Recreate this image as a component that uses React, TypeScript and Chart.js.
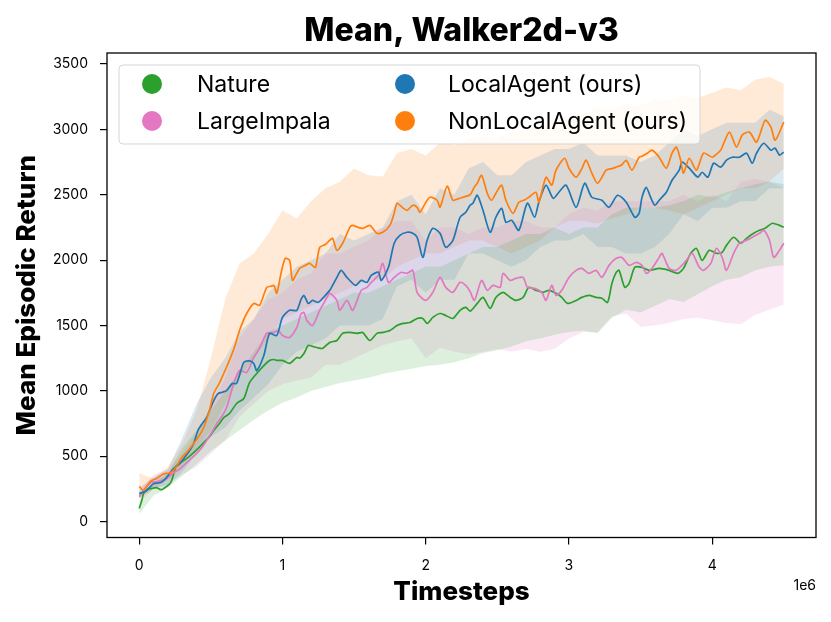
import { useEffect, useRef } from "react";
import { Chart, registerables } from "chart.js";

Chart.register(...registerables);

const TITLE = "Mean, Walker2d-v3";
const X_LABEL = "Timesteps";
const Y_LABEL = "Mean Episodic Return";
const X_OFFSET_LABEL = "1e6";

const X_TICKS = [0, 1, 2, 3, 4];
const Y_TICKS = [0, 500, 1000, 1500, 2000, 2500, 3000, 3500];

// legend order (column-major, as in the original)
const SERIES_NAMES = ["Nature", "LargeImpala", "LocalAgent (ours)", "NonLocalAgent (ours)"];
const SERIES_COLORS = ["#2ca02c", "#e377c2", "#1f77b4", "#ff7f0e"];

// x in millions of timesteps, mean episodic return
const natureMean: [number, number][] = [
  [0, 100], [0.02, 170], [0.03, 214], [0.06, 250], [0.08, 253], [0.12, 260], [0.15, 245], [0.17, 253],
  [0.22, 299], [0.26, 429], [0.31, 467], [0.34, 490], [0.38, 528], [0.42, 570], [0.45, 605], [0.49, 650],
  [0.52, 697], [0.56, 750], [0.59, 796], [0.63, 827], [0.68, 904], [0.73, 942], [0.77, 1064], [0.82, 1133],
  [0.87, 1194], [0.91, 1233], [0.94, 1240], [0.96, 1233], [1.0, 1233], [1.05, 1210], [1.1, 1256], [1.12, 1250],
  [1.15, 1286], [1.18, 1348], [1.21, 1340], [1.24, 1332], [1.28, 1325], [1.33, 1371], [1.38, 1386], [1.42, 1440],
  [1.47, 1447], [1.52, 1440], [1.56, 1447], [1.61, 1386], [1.66, 1440], [1.7, 1447], [1.75, 1462], [1.8, 1500],
  [1.84, 1516], [1.89, 1523], [1.94, 1554], [1.98, 1554], [2.01, 1516], [2.05, 1562], [2.1, 1592], [2.14, 1577],
  [2.19, 1554], [2.24, 1616], [2.28, 1639], [2.31, 1610], [2.36, 1669], [2.4, 1715], [2.45, 1631], [2.49, 1715],
  [2.54, 1754], [2.59, 1715], [2.63, 1692], [2.68, 1715], [2.72, 1792], [2.77, 1769], [2.82, 1754], [2.86, 1769],
  [2.91, 1746], [2.95, 1715], [2.99, 1669], [3.05, 1692], [3.09, 1715], [3.14, 1730], [3.19, 1715], [3.23, 1708],
  [3.27, 1677], [3.3, 1822], [3.33, 1907], [3.35, 1922], [3.39, 1792], [3.42, 1822], [3.46, 1945], [3.51, 1945],
  [3.56, 1922], [3.63, 1937], [3.7, 1922], [3.76, 1899], [3.8, 1937], [3.85, 2052], [3.89, 2090], [3.93, 1998],
  [3.98, 2075], [4.03, 2052], [4.07, 2060], [4.1, 2113], [4.15, 2175], [4.2, 2129], [4.24, 2167], [4.29, 2205],
  [4.33, 2228], [4.37, 2243], [4.42, 2282], [4.47, 2266], [4.5, 2251],
];

const impalaMean: [number, number][] = [
  [0, 190], [0.03, 240], [0.08, 299], [0.12, 305], [0.15, 314], [0.19, 329], [0.24, 375], [0.28, 400],
  [0.31, 429], [0.36, 480], [0.4, 521], [0.44, 570], [0.47, 620], [0.51, 690], [0.54, 750], [0.58, 810],
  [0.61, 873], [0.66, 1057], [0.7, 1156], [0.75, 1141], [0.8, 1256], [0.84, 1325], [0.89, 1440], [0.94, 1447],
  [0.97, 1462], [1.0, 1424], [1.05, 1409], [1.1, 1485], [1.13, 1590], [1.15, 1600], [1.17, 1539], [1.21, 1500],
  [1.26, 1616], [1.3, 1692], [1.33, 1746], [1.38, 1692], [1.4, 1616], [1.45, 1692], [1.49, 1616], [1.55, 1769],
  [1.59, 1792], [1.62, 1830], [1.67, 1884], [1.7, 1975], [1.74, 1830], [1.78, 1868], [1.83, 1907], [1.87, 1899],
  [1.91, 1922], [1.94, 1754], [2.0, 1692], [2.05, 1754], [2.1, 1868], [2.14, 1792], [2.19, 1754], [2.24, 1830],
  [2.28, 1807], [2.31, 1760], [2.34, 1692], [2.39, 1845], [2.43, 1769], [2.47, 1807], [2.52, 1792], [2.54, 1899],
  [2.59, 1845], [2.63, 1861], [2.68, 1868], [2.71, 1792], [2.76, 1784], [2.81, 1754], [2.84, 1692], [2.88, 1807],
  [2.91, 1730], [2.95, 1769], [3.0, 1868], [3.05, 1922], [3.09, 1937], [3.14, 1899], [3.19, 1922], [3.23, 1868],
  [3.28, 1960], [3.33, 2014], [3.37, 2021], [3.42, 1960], [3.47, 1983], [3.51, 1960], [3.54, 1899], [3.58, 1937],
  [3.63, 2021], [3.65, 2052], [3.7, 1937], [3.75, 1922], [3.82, 1998], [3.86, 2052], [3.91, 1945], [3.94, 1922],
  [3.99, 1975], [4.03, 2090], [4.07, 2021], [4.1, 1922], [4.15, 2052], [4.19, 2129], [4.24, 2152], [4.28, 2175],
  [4.33, 2205], [4.36, 2228], [4.4, 2152], [4.43, 2021], [4.47, 2075], [4.5, 2129],
];

const localMean: [number, number][] = [
  [0, 214], [0.05, 237], [0.1, 291], [0.15, 299], [0.19, 337], [0.24, 406], [0.28, 440], [0.31, 482],
  [0.35, 540], [0.38, 597], [0.41, 697], [0.44, 750], [0.47, 796], [0.52, 926], [0.55, 980], [0.58, 990],
  [0.61, 1003], [0.65, 1057], [0.68, 1057], [0.73, 1218], [0.77, 1230], [0.8, 1210], [0.82, 1156], [0.87, 1271],
  [0.91, 1440], [0.96, 1424], [1.0, 1562], [1.05, 1616], [1.1, 1616], [1.13, 1700], [1.15, 1730], [1.18, 1669],
  [1.21, 1692], [1.25, 1677], [1.28, 1708], [1.33, 1769], [1.38, 1868], [1.41, 1922], [1.45, 1868], [1.51, 1807],
  [1.55, 1845], [1.59, 1830], [1.62, 1884], [1.67, 1907], [1.69, 1845], [1.74, 1945], [1.78, 2129], [1.82, 2190],
  [1.87, 2213], [1.91, 2205], [1.94, 2175], [1.98, 2021], [2.01, 2152], [2.05, 2243], [2.1, 2205], [2.14, 2098],
  [2.19, 2152], [2.24, 2328], [2.28, 2366], [2.31, 2420], [2.33, 2435], [2.36, 2496], [2.4, 2381], [2.45, 2213],
  [2.49, 2328], [2.53, 2396], [2.56, 2289], [2.6, 2305], [2.65, 2228], [2.71, 2435], [2.76, 2328], [2.79, 2443],
  [2.84, 2573], [2.89, 2473], [2.93, 2519], [2.98, 2573], [3.05, 2404], [3.11, 2588], [3.16, 2481], [3.23, 2458],
  [3.28, 2404], [3.34, 2496], [3.4, 2443], [3.46, 2328], [3.49, 2358], [3.51, 2480], [3.54, 2557], [3.57, 2481],
  [3.6, 2420], [3.63, 2458], [3.68, 2519], [3.72, 2611], [3.77, 2688], [3.79, 2749], [3.84, 2703], [3.9, 2634],
  [3.93, 2672], [3.97, 2634], [4.01, 2741], [4.06, 2711], [4.1, 2764], [4.14, 2787], [4.19, 2787], [4.24, 2818],
  [4.28, 2741], [4.31, 2818], [4.36, 2894], [4.41, 2841], [4.44, 2856], [4.47, 2803], [4.5, 2826],
];

const nonLocalMean: [number, number][] = [
  [0, 270], [0.03, 240], [0.08, 310], [0.12, 330], [0.17, 365], [0.22, 375], [0.26, 420], [0.29, 480],
  [0.34, 540], [0.38, 597], [0.42, 660], [0.45, 720], [0.49, 850], [0.52, 980], [0.56, 1060], [0.59, 1133],
  [0.63, 1233], [0.67, 1350], [0.7, 1462], [0.75, 1592], [0.8, 1669], [0.84, 1654], [0.89, 1792], [0.92, 1800],
  [0.94, 1807], [0.96, 1746], [0.99, 1900], [1.02, 2014], [1.05, 1998], [1.07, 1845], [1.1, 1900], [1.12, 1937],
  [1.16, 1960], [1.19, 1975], [1.23, 1945], [1.26, 2098], [1.3, 2120], [1.33, 2152], [1.35, 2167], [1.38, 2075],
  [1.42, 2129], [1.47, 2251], [1.49, 2266], [1.53, 2250], [1.56, 2243], [1.61, 2266], [1.66, 2205], [1.7, 2213],
  [1.75, 2266], [1.78, 2358], [1.8, 2435], [1.84, 2400], [1.87, 2381], [1.91, 2420], [1.94, 2404], [1.96, 2366],
  [2.0, 2440], [2.03, 2481], [2.08, 2458], [2.1, 2404], [2.15, 2565], [2.19, 2458], [2.23, 2470], [2.26, 2481],
  [2.31, 2500], [2.34, 2560], [2.36, 2588], [2.39, 2649], [2.43, 2511], [2.46, 2458], [2.49, 2511], [2.53, 2573],
  [2.56, 2458], [2.61, 2358], [2.65, 2443], [2.69, 2460], [2.72, 2481], [2.77, 2519], [2.79, 2443], [2.84, 2634],
  [2.88, 2573], [2.91, 2688], [2.97, 2779], [3.0, 2703], [3.05, 2634], [3.09, 2700], [3.12, 2764], [3.16, 2665],
  [3.2, 2588], [3.26, 2688], [3.3, 2700], [3.33, 2711], [3.37, 2730], [3.4, 2764], [3.44, 2688], [3.49, 2787],
  [3.51, 2795], [3.55, 2820], [3.58, 2841], [3.63, 2787], [3.68, 2703], [3.72, 2818], [3.75, 2864], [3.78, 2764],
  [3.8, 2665], [3.84, 2779], [3.89, 2688], [3.94, 2818], [4.0, 2787], [4.03, 2810], [4.06, 2841], [4.12, 2979],
  [4.17, 2864], [4.21, 2956], [4.26, 2979], [4.31, 2902], [4.37, 3070], [4.41, 3017], [4.44, 2917], [4.5, 3055],
];

// shaded bands, sampled every 0.1M steps
const BAND_X = [
  0, 0.1, 0.2, 0.3, 0.4, 0.5, 0.6, 0.7, 0.8, 0.9, 1.0, 1.1, 1.2, 1.3, 1.4, 1.5, 1.6, 1.7, 1.8, 1.9, 2.0, 2.1, 2.2,
  2.3, 2.4, 2.5, 2.6, 2.7, 2.8, 2.9, 3.0, 3.1, 3.2, 3.3, 3.4, 3.5, 3.6, 3.7, 3.8, 3.9, 4.0, 4.1, 4.2, 4.3, 4.4, 4.5,
];

const natureLow = [
  60, 200, 260, 350, 440, 540, 620, 700, 780, 850, 910, 950, 1000, 1030, 1060, 1080, 1100, 1130, 1150, 1170, 1190,
  1200, 1220, 1250, 1290, 1310, 1340, 1380, 1400, 1430, 1450, 1460, 1440, 1560, 1620, 1600, 1650, 1700, 1680, 1740,
  1800, 1850, 1870, 1920, 1950, 1960,
];
const natureHigh = [
  150, 300, 370, 560, 700, 850, 1000, 1150, 1300, 1450, 1500, 1550, 1600, 1650, 1700, 1750, 1750, 1800, 1850, 1900,
  1950, 1950, 2000, 2050, 2100, 2100, 2150, 2200, 2200, 2250, 2200, 2250, 2250, 2350, 2400, 2400, 2400, 2420, 2450,
  2500, 2480, 2520, 2550, 2580, 2600, 2580,
];

const impalaLow = [
  150, 250, 280, 360, 420, 520, 620, 800, 900, 1000, 1050, 1080, 1100, 1200, 1200, 1250, 1300, 1350, 1380, 1400,
  1250, 1330, 1300, 1280, 1300, 1320, 1300, 1320, 1300, 1320, 1400, 1450, 1450, 1570, 1590, 1490, 1500, 1520, 1550,
  1560, 1540, 1520, 1510, 1580, 1620, 1660,
];
const impalaHigh = [
  230, 360, 400, 520, 680, 880, 1100, 1400, 1550, 1700, 1750, 1850, 1900, 2050, 2050, 2100, 2150, 2250, 2300, 2300,
  2150, 2250, 2250, 2200, 2250, 2250, 2300, 2300, 2250, 2250, 2350, 2400, 2380, 2450, 2450, 2450, 2450, 2450, 2500,
  2450, 2500, 2450, 2600, 2620, 2600, 2550,
];

const localLow = [
  180, 250, 280, 380, 520, 650, 720, 850, 950, 1050, 1200, 1300, 1350, 1400, 1500, 1500, 1500, 1550, 1800, 1850,
  1750, 1850, 1850, 2050, 2050, 2000, 1950, 2000, 2100, 2150, 2150, 2200, 2100, 2100, 2050, 2050, 2100, 2200, 2350,
  2300, 2400, 2400, 2450, 2450, 2550, 2550,
];
const localHigh = [
  260, 340, 400, 640, 900, 1100, 1250, 1450, 1550, 1750, 1850, 1950, 2000, 2050, 2200, 2150, 2200, 2250, 2450, 2500,
  2350, 2550, 2500, 2700, 2750, 2650, 2650, 2750, 2800, 2850, 2850, 2900, 2800, 2800, 2800, 2750, 2800, 2900, 3000,
  2950, 3000, 3050, 3050, 3050, 3150, 3100,
];

const nonLocalLow = [
  180, 250, 320, 420, 560, 700, 900, 1100, 1250, 1400, 1550, 1600, 1650, 1700, 1750, 1800, 1850, 1850, 1950, 2000,
  2050, 2050, 2100, 2150, 2150, 2100, 2050, 2100, 2150, 2250, 2300, 2300, 2280, 2320, 2350, 2400, 2400, 2380, 2350,
  2400, 2450, 2500, 2550, 2550, 2600, 2700,
];
const nonLocalHigh = [
  370, 330, 420, 600, 850, 1250, 1700, 1975, 2050, 2200, 2380, 2320, 2450, 2550, 2600, 2700, 2650, 2640, 2820, 2850,
  2800, 2900, 2880, 2920, 2950, 2930, 2980, 3000, 3020, 3080, 3100, 3120, 3170, 3150, 3200, 3180, 3230, 3220, 3260,
  3240, 3280, 3320, 3300, 3380, 3400, 3350,
];

const MEANS = [natureMean, impalaMean, localMean, nonLocalMean];
const LOWS = [natureLow, impalaLow, localLow, nonLocalLow];
const HIGHS = [natureHigh, impalaHigh, localHigh, nonLocalHigh];

const FONT = "Inter, 'DejaVu Sans', sans-serif";

function withAlpha(hex: string, a: number) {
  const n = parseInt(hex.slice(1), 16);
  return `rgba(${(n >> 16) & 255},${(n >> 8) & 255},${n & 255},${a})`;
}

// title over the axes, full box frame, in-axes legend and the "1e6" offset text
const framePlugin = {
  id: "mplFrame",
  afterDraw(chart: Chart) {
    const { ctx, chartArea } = chart;
    const { left, top, right, bottom } = chartArea;
    ctx.save();

    ctx.fillStyle = "#000";
    ctx.font = `800 32px ${FONT}`;
    ctx.textAlign = "center";
    ctx.textBaseline = "middle";
    ctx.fillText(TITLE, (left + right) / 2, 31);

    ctx.strokeStyle = "#000";
    ctx.lineWidth = 1.3;
    ctx.strokeRect(left, top, right - left, bottom - top);

    // legend box
    const bx = left + 12;
    const by = top + 12;
    const bw = 581;
    const bh = 79;
    ctx.beginPath();
    ctx.roundRect(bx, by, bw, bh, 4);
    ctx.fillStyle = "rgba(255,255,255,0.8)";
    ctx.fill();
    ctx.strokeStyle = "rgba(210,210,210,0.9)";
    ctx.lineWidth = 1;
    ctx.stroke();

    ctx.font = `23px ${FONT}`;
    ctx.textAlign = "left";
    ctx.textBaseline = "middle";
    SERIES_NAMES.forEach((name, i) => {
      const col = Math.floor(i / 2);
      const row = i % 2;
      const cx = bx + 33 + col * 253;
      const cy = by + 19 + row * 37;
      ctx.beginPath();
      ctx.arc(cx, cy, 10, 0, Math.PI * 2);
      ctx.fillStyle = SERIES_COLORS[i];
      ctx.fill();
      ctx.fillStyle = "#000";
      ctx.fillText(name, cx + 45 - col * 2, cy + 1);
    });

    ctx.font = `14px ${FONT}`;
    ctx.textAlign = "right";
    ctx.textBaseline = "middle";
    ctx.fillStyle = "#000";
    ctx.fillText(X_OFFSET_LABEL, right, bottom + 48);

    ctx.restore();
  },
};

export default function App() {
  const canvasRef = useRef<HTMLCanvasElement | null>(null);

  useEffect(() => {
    if (!canvasRef.current) return;

    const bandSets: any[] = [];
    MEANS.forEach((_, i) => {
      bandSets.push({
        label: `${SERIES_NAMES[i]} low`,
        data: BAND_X.map((x, k) => ({ x, y: LOWS[i][k] })),
        borderColor: "rgba(0,0,0,0)",
        borderWidth: 0,
        pointRadius: 0,
        fill: false,
        order: 1,
      });
      bandSets.push({
        label: `${SERIES_NAMES[i]} high`,
        data: BAND_X.map((x, k) => ({ x, y: HIGHS[i][k] })),
        borderColor: "rgba(0,0,0,0)",
        borderWidth: 0,
        pointRadius: 0,
        backgroundColor: withAlpha(SERIES_COLORS[i], 0.16),
        fill: "-1",
        order: 1,
      });
    });

    // lower index is drawn on top, so NonLocalAgent goes first
    const lineSets = [3, 2, 1, 0].map((i) => ({
      label: SERIES_NAMES[i],
      data: MEANS[i].map(([x, y]) => ({ x, y })),
      borderColor: SERIES_COLORS[i],
      borderWidth: 1.7,
      pointRadius: 0,
      fill: false,
      tension: 0.25,
      order: 0,
    }));

    const tickFont = { family: FONT, size: 14 };

    const chart = new Chart(canvasRef.current, {
      type: "line",
      data: { datasets: [...lineSets, ...bandSets] },
      options: {
        animation: false,
        responsive: true,
        maintainAspectRatio: false,
        layout: { padding: { left: 0, right: 15, top: 53, bottom: 0 } },
        plugins: {
          legend: { display: false },
          tooltip: { enabled: false },
          title: { display: false },
        },
        scales: {
          x: {
            type: "linear",
            min: -0.225,
            max: 4.725,
            afterFit: (s: any) => {
              s.height = 84.5;
            },
            afterBuildTicks: (s: any) => {
              s.ticks = X_TICKS.map((v) => ({ value: v }));
            },
            ticks: {
              color: "#000",
              font: tickFont,
              padding: 13,
              maxRotation: 0,
              callback: (v: any) => String(v),
            },
            grid: { display: true, drawOnChartArea: false, drawTicks: true, tickLength: 7, color: "#000", lineWidth: 1.2 },
            border: { display: false },
            title: {
              display: true,
              text: X_LABEL,
              color: "#000",
              font: { family: FONT, size: 26, weight: "800" },
              padding: { top: 0, bottom: 14 },
            },
          },
          y: {
            type: "linear",
            min: -121,
            max: 3584,
            afterFit: (s: any) => {
              s.width = 107;
            },
            afterBuildTicks: (s: any) => {
              s.ticks = Y_TICKS.map((v) => ({ value: v }));
            },
            ticks: {
              color: "#000",
              font: tickFont,
              padding: 12,
              callback: (v: any) => String(v),
            },
            grid: { display: true, drawOnChartArea: false, drawTicks: true, tickLength: 7, color: "#000", lineWidth: 1.2 },
            border: { display: false },
            title: {
              display: true,
              text: Y_LABEL,
              color: "#000",
              font: { family: FONT, size: 26, weight: "800" },
              padding: { top: 12, bottom: 0 },
            },
          },
        },
      },
      plugins: [framePlugin],
    });

    return () => chart.destroy();
  }, []);

  return (
    <div style={{ position: "fixed", left: 0, top: 0, width: 831, height: 622, background: "#fff" }}>
      <canvas ref={canvasRef} />
    </div>
  );
}
